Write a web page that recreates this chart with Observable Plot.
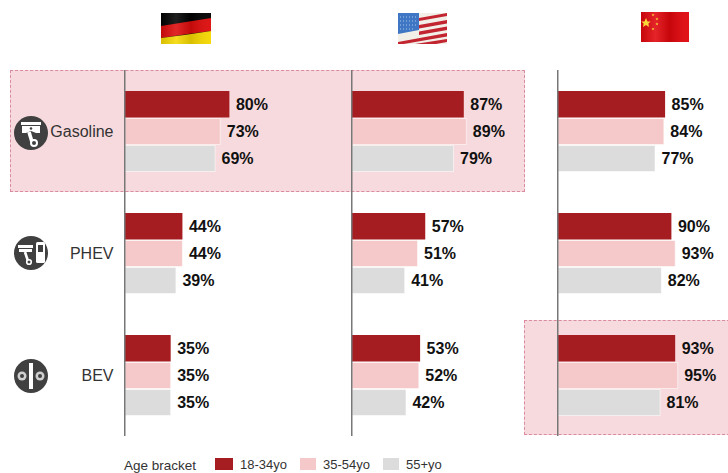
<!DOCTYPE html>
<html>
<head>
<meta charset="utf-8">
<script src="https://cdn.jsdelivr.net/npm/d3@7"></script>
<script src="https://cdn.jsdelivr.net/npm/@observablehq/plot@0.6"></script>
<style>
  html, body { margin: 0; padding: 0; background: #fff; }
  #page { position: relative; width: 728px; height: 473px; overflow: hidden; font-family: "Liberation Sans", Arial, sans-serif; }
  .hl { position: absolute; background: #f7dadd; border: 1.5px dashed #d98ba0; box-sizing: border-box; }
  #panels { position: absolute; left: 0; top: 0; display: flex; }
  #panels svg { display: block; background: transparent; overflow: visible; }
  .deco { position: absolute; left: 0; top: 0; pointer-events: none; }
  .lg { position: absolute; top: 457px; font-size: 13px; line-height: 15px; color: #333; white-space: nowrap; }
  .sw { position: absolute; top: 458px; height: 12px; }
</style>
</head>
<body>
<div id="page">
  <div class="hl" style="left:10px;top:70px;width:515px;height:122px"></div>
  <div class="hl" style="left:524px;top:320px;width:206px;height:115px"></div>
  <div id="panels"></div>
  <svg class="deco" width="728" height="473" viewBox="0 0 728 473">
    <defs>
      <linearGradient id="wave" x1="0" x2="1" y1="0" y2="0">
        <stop offset="0" stop-color="#000" stop-opacity=".12"/>
        <stop offset=".3" stop-color="#fff" stop-opacity=".12"/>
        <stop offset=".6" stop-color="#000" stop-opacity=".12"/>
        <stop offset="1" stop-color="#fff" stop-opacity=".05"/>
      </linearGradient>
      <clipPath id="deClip"><rect x="161" y="13" width="50" height="31"/></clipPath>
      <clipPath id="usClip"><rect x="398" y="13" width="49" height="31"/></clipPath>
      <polygon id="star" points="0,-1 .294,-.309 .951,-.309 .476,.118 .588,.809 0,.382 -.588,.809 -.476,.118 -.951,-.309 -.294,-.309"/>
    </defs>
    <g clip-path="url(#deClip)">
      <rect x="161" y="13" width="50" height="31" fill="#000"/>
      <path d="M161 26 Q186 22 211 18 V31 Q186 34 161 38 Z" fill="#dd0b0b"/>
      <path d="M161 38 Q186 35 211 31 V44 H161 Z" fill="#f5d800"/>
      <rect x="161" y="13" width="50" height="31" fill="url(#wave)"/>
    </g>
    <g clip-path="url(#usClip)">
      <rect x="398" y="13" width="49" height="31" fill="#f2efe9"/>
      <path d="M419 18 L447 13 V16 L419 21 Z M419 25 L447 20 V23.5 L419 28.5 Z M419 31.5 L447 26.5 V30 L419 35 Z M398 42 L447 33 V36.5 L398 45 Z M415 44 L447 39 V42 L425 46 Z" fill="#c2252f"/>
      <path d="M398 13 H419 V30 L398 34 Z" fill="#3f77c4"/>
      <path d="M400 17 h17 M400 21 h17 M400 25 h17 M400 29 h15" stroke="#a9c6ec" stroke-width="1" stroke-dasharray="1 2"/>
    </g>
    <rect x="641" y="12" width="48" height="30" fill="#e0060c"/>
    <rect x="641" y="12" width="48" height="30" fill="url(#wave)"/>
    <g fill="#fbd83a">
      <use href="#star" transform="translate(646,23) scale(5)"/>
      <use href="#star" transform="translate(653,15) scale(1.5)"/>
      <use href="#star" transform="translate(657,19) scale(1.5)"/>
      <use href="#star" transform="translate(657,24) scale(1.5)"/>
      <use href="#star" transform="translate(653,29) scale(1.5)"/>
    </g>

    <g transform="translate(31,133)">
      <circle r="17" fill="#404040"/>
      <path d="M-10 -11 H10 V-8 H-10 Z M-9 -7 H9 V0 H5 L0 -2 L-5 0 H-9 Z" fill="#fff"/>
      <circle cx="0" cy="-4.5" r="1.3" fill="#404040"/>
      <path d="M-2 -1 L1 9" stroke="#fff" stroke-width="3.6"/>
      <circle cx="3" cy="10" r="3" fill="#404040" stroke="#fff" stroke-width="2"/>
    </g>
    <g transform="translate(31,253)">
      <circle r="17" fill="#404040"/>
      <path d="M-13 -8 H2 V-5 H-13 Z M-12 -4 H1 V-1 H-12 Z" fill="#fff"/>
      <path d="M-6 -1 L-3 8" stroke="#fff" stroke-width="2.6"/>
      <circle cx="-2" cy="9" r="2.3" fill="#404040" stroke="#fff" stroke-width="1.6"/>
      <rect x="5" y="-11" width="9" height="21" rx="1.5" fill="#fff"/>
      <rect x="7" y="-8" width="5" height="7" fill="#404040"/>
    </g>
    <g transform="translate(31,376)">
      <circle r="17" fill="#404040"/>
      <rect x="-2" y="-13" width="4" height="26" fill="#fff"/>
      <circle cx="-9" cy="0" r="4.5" fill="#cfcfcf"/>
      <circle cx="9" cy="0" r="4.5" fill="#cfcfcf"/>
      <circle cx="-9" cy="0" r="2" fill="#404040"/>
      <circle cx="9" cy="0" r="2" fill="#404040"/>
    </g>
  </svg>
  <div class="lg" style="left:124px;top:458px;font-size:13.5px">Age bracket</div>
  <div class="sw" style="left:215px;width:18px;background:#a51d21"></div>
  <div class="lg" style="left:240px">18-34yo</div>
  <div class="sw" style="left:300px;width:16px;background:#f5c9ca"></div>
  <div class="lg" style="left:323px">35-54yo</div>
  <div class="sw" style="left:383px;width:16px;background:#dcdcdc"></div>
  <div class="lg" style="left:406px">55+yo</div>
</div>
<script>
const powertrains = ["Gasoline", "PHEV", "BEV"];
const ages = ["18-34yo", "35-54yo", "55+yo"];
const ageColors = ["#a51d21", "#f5c9ca", "#dcdcdc"];

const germany = [80, 73, 69, 44, 44, 39, 35, 35, 35];
const usa     = [87, 89, 79, 57, 51, 41, 53, 52, 42];
const china   = [85, 84, 77, 90, 93, 82, 93, 95, 81];

const toRows = values => values.map((value, i) => ({
  value,
  type: powertrains[Math.floor(i / 3)],
  age: ages[i % 3]
}));

function panel(values, {width, axisX, scale, labels}) {
  const rows = toRows(values);
  return Plot.plot({
    width,
    height: 473,
    marginLeft: axisX,
    marginRight: 0,
    marginTop: 70,
    marginBottom: 37,
    style: {background: "transparent", fontFamily: "'Liberation Sans', Arial, sans-serif"},
    x: {domain: [0, 100], range: [axisX, axisX + scale * 100], axis: null},
    y: {domain: ages, padding: 0, insetTop: 21, insetBottom: 20, axis: null},
    fy: {domain: powertrains, padding: 0, axis: null},
    color: {domain: ages, range: ageColors},
    marks: [
      Plot.barX(rows.filter(d => d.age !== ages[0]), {
        x: "value", y: "age", fy: "type", fill: "age", stroke: "#ffffff", strokeOpacity: 0.55, strokeWidth: 1, insetTop: 0.5, insetBottom: 0.5
      }),
      Plot.barX(rows.filter(d => d.age === ages[0]), {
        x: "value", y: "age", fy: "type", fill: "age", insetBottom: 0.5
      }),
      Plot.ruleX([0], {stroke: "#777777", strokeWidth: 1.5, dx: -0.75}),
      Plot.text(rows, {
        x: "value", y: "age", fy: "type", text: d => d.value + "%", dx: 6,
        textAnchor: "start", fontWeight: "bold", fontSize: 16, fill: "#111111"
      }),
      labels ? Plot.axisFy({anchor: "left", tickSize: 0, tickPadding: 12, label: null, fontSize: 16, color: "#333333"}) : null
    ]
  });
}

const host = document.getElementById("panels");
host.append(
  panel(germany, {width: 345, axisX: 125, scale: 1.305, labels: true}),
  panel(usa,     {width: 207, axisX: 7,   scale: 1.285, labels: false}),
  panel(china,   {width: 176, axisX: 6,   scale: 1.26,  labels: false})
);
</script>
</body>
</html>
